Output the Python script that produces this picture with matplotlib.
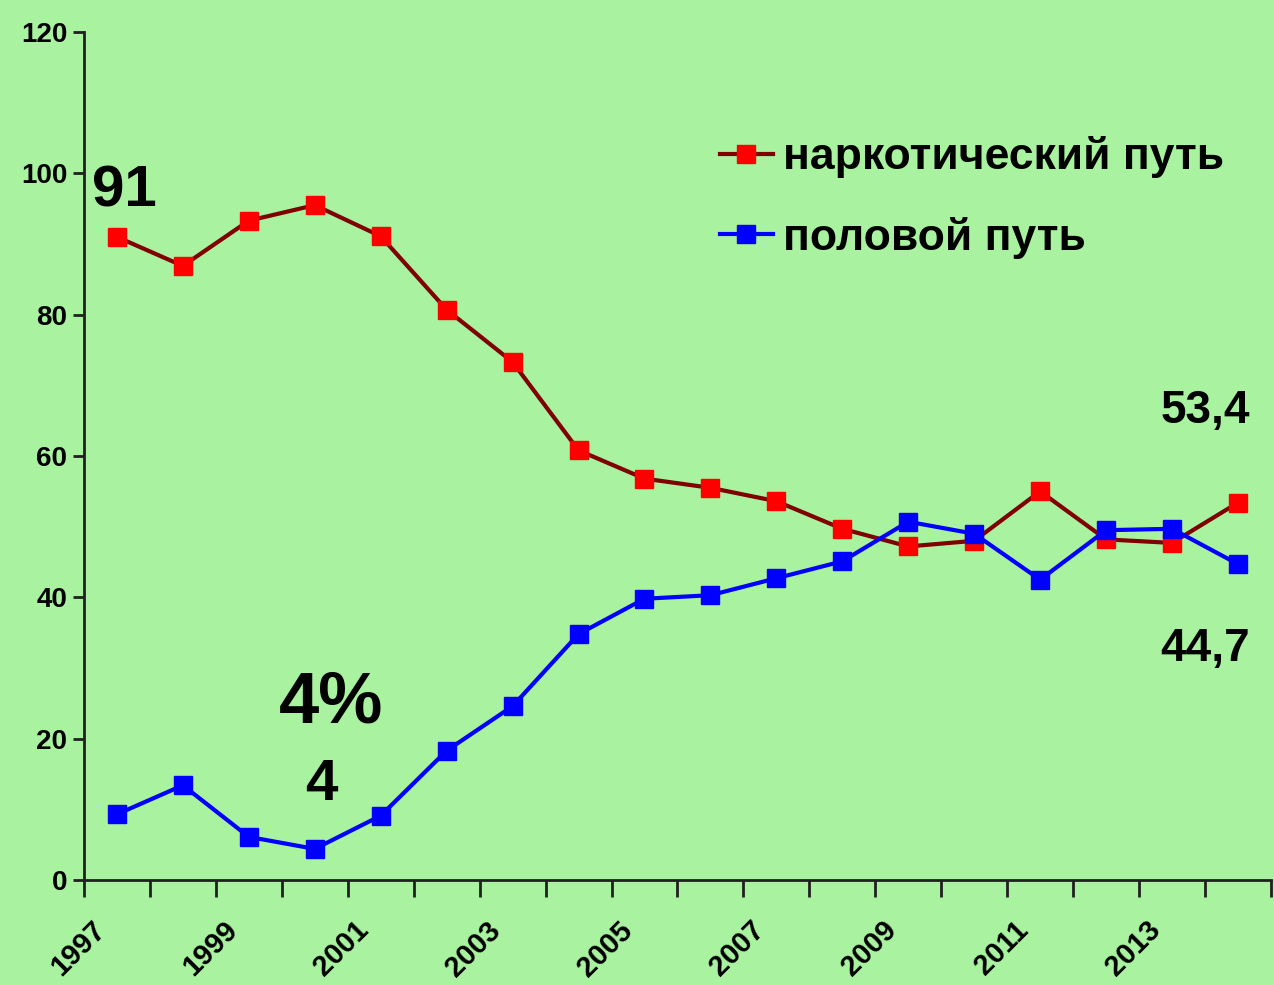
import matplotlib
matplotlib.use("Agg")
import matplotlib.pyplot as plt
import matplotlib.transforms as mtransforms
from matplotlib import font_manager
import numpy as np

years = list(range(1997, 2015))
narco = [91, 86.9, 93.3, 95.5, 91.1, 80.7, 73.3, 60.8, 56.8, 55.5, 53.6, 49.7, 47.2, 48.0, 55.0, 48.2, 47.7, 53.4]
sexual = [9.3, 13.4, 6.1, 4.4, 9.1, 18.3, 24.6, 34.8, 39.8, 40.3, 42.7, 45.1, 50.7, 49.0, 42.5, 49.5, 49.7, 44.7]
series_names = ["наркотический путь", "половой путь"]
yticks = [0, 20, 40, 60, 80, 100, 120]
xlabel_years = [1997, 1999, 2001, 2003, 2005, 2007, 2009, 2011, 2013]

def pick_font(names):
    for n in names:
        try:
            font_manager.findfont(font_manager.FontProperties(family=n), fallback_to_default=False)
            return n
        except Exception:
            continue
    return "DejaVu Sans"

FONT = pick_font(["Liberation Sans Narrow", "Liberation Sans", "DejaVu Sans"])
plt.rcParams['font.family'] = [FONT, 'DejaVu Sans']
plt.rcParams['font.weight'] = 'bold'

BG = "#A9F3A0"
fig = plt.figure(figsize=(12.74, 9.85), dpi=100, facecolor=BG)
ax = fig.add_axes([0.0659, 0.1066, 0.9317, 0.8609], facecolor=BG)

x = np.arange(len(years)) + 0.5
ax.plot(x, narco, color="#800000", lw=3, marker="s", ms=13, mfc="#FF0000", mec="#FF0000",
        label=series_names[0], zorder=3)
ax.plot(x, sexual, color="#0000FF", lw=3, marker="s", ms=13, mfc="#0000FF", mec="#0000FF",
        label=series_names[1], zorder=4)

ax.set_xlim(0, len(years))
ax.set_ylim(0, 120)
ax.set_yticks(yticks)
ax.set_yticklabels([str(v) for v in yticks], fontsize=20, fontweight='bold')

idx = [years.index(y) for y in xlabel_years]
ax.set_xticks([x[i] for i in idx])
ax.set_xticklabels([str(y) for y in xlabel_years], rotation=45, ha='right',
                   rotation_mode='anchor', fontsize=21, fontweight='bold')
ax.set_xticks(np.arange(len(years) + 1), minor=True)
ax.tick_params(axis='x', which='major', length=0, pad=26)
ax.tick_params(axis='x', which='minor', length=12, width=2, color="#202020", direction='out')
ax.tick_params(axis='y', length=8, width=2, color="#202020", pad=4)

offset = mtransforms.ScaledTranslation(-26 / 100, 0, fig.dpi_scale_trans)
for tick in ax.xaxis.get_major_ticks():
    tick.label1.set_transform(tick.label1.get_transform() + offset)

for s in ["top", "right"]:
    ax.spines[s].set_visible(False)
for s in ["left", "bottom"]:
    ax.spines[s].set_linewidth(2)
    ax.spines[s].set_color("#202020")

leg = ax.legend(loc='upper left', bbox_to_anchor=(0.536, 0.877), frameon=False,
                fontsize=32, handlelength=1.18, handletextpad=0.23, labelspacing=0.86,
                borderaxespad=0, borderpad=0)
for t in leg.get_texts():
    t.set_fontweight('bold')

ax.text(x[0] + 0.12, 97.5, "91", fontsize=42, fontweight='bold', ha='center', va='center')
ax.text(x[3] + 0.25, 25, "4%", fontsize=52, fontweight='bold', ha='center', va='center')
ax.text(x[3] + 0.1, 13.5, "4", fontsize=42, fontweight='bold', ha='center', va='center')
ax.text(x[-1] - 0.5, 66.3, "53,4", fontsize=33, fontweight='bold', ha='center', va='center')
ax.text(x[-1] - 0.5, 32.7, "44,7", fontsize=33, fontweight='bold', ha='center', va='center')

fig.savefig("out.png", dpi=100, facecolor=BG)
